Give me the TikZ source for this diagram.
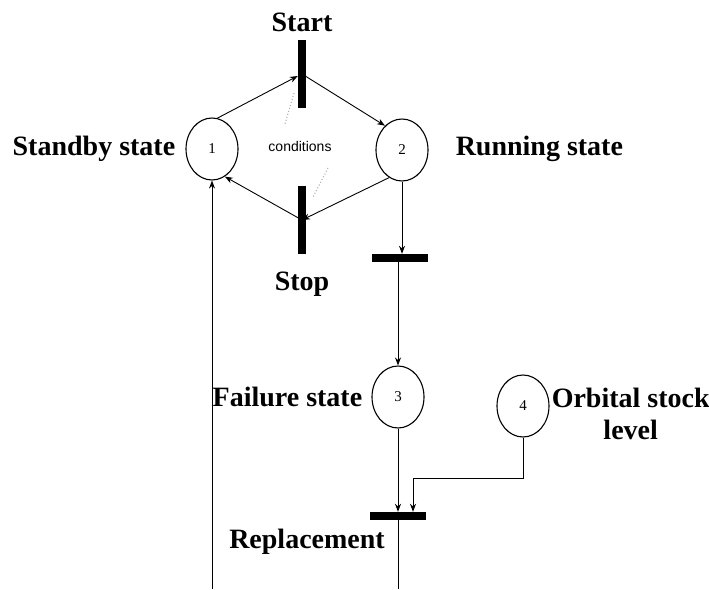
\documentclass[tikz,border=0pt]{standalone}
\usepackage{fontspec}
\setmainfont{Liberation Serif}
\setsansfont{Liberation Sans}
\usetikzlibrary{positioning, shapes.geometric, arrows.meta, calc}

\tikzset{
  place/.style={draw, line width=1.1pt, ellipse, minimum width=52pt, minimum height=62pt, inner sep=0pt, font=\fontsize{15}{15}\selectfont},
  vbar/.style={fill=black, inner sep=0pt, minimum width=8pt, minimum height=68pt},
  hbar/.style={fill=black, inner sep=0pt, minimum width=56pt, minimum height=8pt},
  lbl/.style={inner sep=0pt, font=\bfseries\fontsize{28}{30}\selectfont},
  arc/.style={line width=0.9pt, -{Stealth[length=8pt, width=6pt]}},
  cond/.style={gray!60, dotted, line width=1.1pt}
}

\begin{document}
\begin{tikzpicture}[x=1pt, y=-1pt]
  \useasboundingbox (0,0) rectangle (709,589);

  % places
  \node[place] (p1) at (212,149) {1};
  \node[place] (p2) at (402,150) {2};
  \node[place] (p3) at (398,397) {3};
  \node[place] (p4) at (523,406) {4};

  % transitions
  \node[vbar] (start) at (302,74) {};
  \node[vbar] (stop) at (302,220) {};
  \node[hbar] (fail) at (400,258) {};
  \node[hbar] (repl) at (398,516) {};

  % labels
  \node[lbl] at (302,22) {Start};
  \node[lbl] at (302,284) {Stop};
  \node[lbl, left=10pt of p1] {Standby state};
  \node[lbl, right=27pt of p2, yshift=1pt] {Running state};
  \node[lbl, left=9pt of p3] {Failure state};
  \node[lbl, right=2pt of p4, yshift=-8pt, align=center, font=\bfseries\fontsize{28}{32}\selectfont] {Orbital stock\\level};
  \node[lbl] at (307,542) {Replacement};
  \node[font=\sffamily\fontsize{14}{14}\selectfont] (cnd) at (300,146) {conditions};

  % enabling conditions
  \draw[cond] (294,93) -- (285,124);
  \draw[cond] (328,168) -- (313,197);

  % arcs
  \draw[arc] (p1.80) -- (start.west |- 0,76);
  \draw[arc] (start.center) -- (p2.125);
  \draw[arc] (p2.245) -- (stop.center);
  \draw[arc] (stop.center) -- (p1.295);
  \draw[arc] (p2.south) -- (fail.north -| p2.south);
  \draw[arc] (fail.center -| p3.north) -- (p3.north);
  \draw[arc] (p3.south) -- (repl.north -| p3.south);
  \coordinate (bend) at (413,478);
  \draw[arc] (p4.south) |- (bend) -- (bend |- repl.north);
  \coordinate (reploop) at (398,589);
  \draw[line width=0.9pt] (repl.center) -- (reploop);
  \coordinate (back) at (212,589);
  \draw[arc] (back) -- (p1.south);
\end{tikzpicture}
\end{document}
